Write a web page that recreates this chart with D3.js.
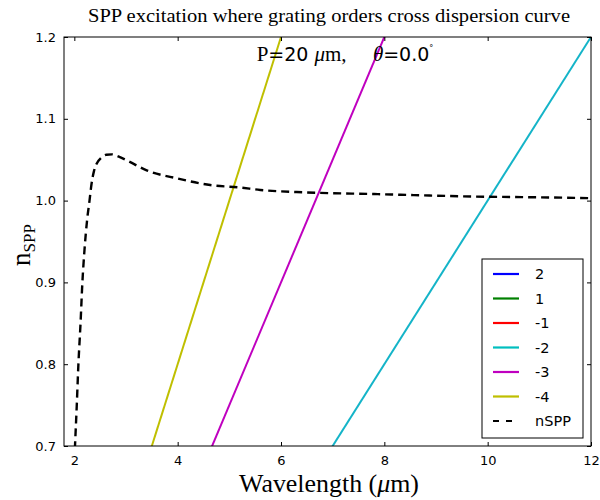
<!DOCTYPE html>
<html><head><meta charset="utf-8">
<script src="https://cdn.jsdelivr.net/npm/d3@7"></script>
<style>body{margin:0;background:#fff}svg{display:block}</style>
</head><body>
<svg id="c" width="600" height="500"></svg>
<script>
// ---- data ----
const xTicks = [2, 4, 6, 8, 10, 12];
const yTicks = [0.7, 0.8, 0.9, 1.0, 1.1, 1.2];
const orderNames = ["2", "1", "-1", "-2", "-3", "-4"];
const orderColors = ["#0000ff", "#008000", "#ff0000", "#00bfbf", "#bf00bf", "#bfbf00"];
const orderLineColors = ["#0000ff", "#008000", "#ff0000", "#14b4c8", "#bf00bf", "#bfbf00"];
const orderLambda = [1.8, 12];
const order2 = [-0.18, -1.2];
const order1 = [-0.09, -0.6];
const orderM1 = [0.09, 0.6];
const orderM2 = [0.18, 1.2];
const orderM3 = [0.27, 1.8];
const orderM4 = [0.36, 2.4];
const sppLambda = [2.00, 2.013, 2.046, 2.078, 2.12, 2.155, 2.197, 2.245, 2.294, 2.332, 2.38, 2.44, 2.516, 2.62, 2.73, 2.85, 3.05, 3.40, 4.0, 4.63, 5.2, 5.6, 6.5, 7.8, 9.0, 9.7, 11.0, 12.0];
const sppN     = [0.68, 0.700, 0.748, 0.799, 0.850, 0.899, 0.940, 0.975, 1.000, 1.020, 1.036, 1.046, 1.052, 1.056, 1.0565, 1.054, 1.048, 1.037, 1.027, 1.019, 1.016, 1.013, 1.010, 1.008, 1.006, 1.005, 1.004, 1.003];

const orderValues = [order2, order1, orderM1, orderM2, orderM3, orderM4];

// ---- layout ----
const L = 64, R = 591, T = 37, B = 446;
const svg = d3.select("#c");
const x = d3.scaleLinear().domain([1.8, 12]).range([L, R]);
const y = d3.scaleLinear().domain([0.7, 1.2]).range([B, T]);

svg.append("defs").append("clipPath").attr("id", "clip")
  .append("rect").attr("x", L).attr("y", T).attr("width", R - L).attr("height", B - T);

const plot = svg.append("g").attr("clip-path", "url(#clip)");
const line = d3.line().x(d => x(d[0])).y(d => y(d[1]));

orderValues.forEach((vals, i) => {
  plot.append("path")
    .datum(orderLambda.map((l, j) => [l, vals[j]]))
    .attr("d", line).attr("fill", "none")
    .attr("stroke", orderLineColors[i]).attr("stroke-width", 2);
});

plot.append("path")
  .datum(sppLambda.map((l, j) => [l, sppN[j]]))
  .attr("d", line.curve(d3.curveMonotoneX)).attr("fill", "none")
  .attr("stroke", "#000").attr("stroke-width", 2.4).attr("stroke-dasharray", "8,5");

// ---- axes (ticks inside, on all sides) ----
const tickFont = "DejaVu Sans, sans-serif";
const ax = g => g.selectAll(".domain").remove();
svg.append("g").attr("transform", `translate(0,${B})`)
  .call(d3.axisBottom(x).tickValues(xTicks).tickSize(-4).tickPadding(10).tickFormat(d3.format("d")))
  .call(ax).call(g => g.selectAll("text").attr("font-family", tickFont).attr("font-size", 13).attr("fill", "#000"));
svg.append("g").attr("transform", `translate(0,${T})`)
  .call(d3.axisTop(x).tickValues(xTicks).tickSize(-4).tickFormat(""))
  .call(ax);
svg.append("g").attr("transform", `translate(${L},0)`)
  .call(d3.axisLeft(y).tickValues(yTicks).tickSize(-4).tickPadding(8).tickFormat(d3.format(".1f")))
  .call(ax).call(g => g.selectAll("text").attr("font-family", tickFont).attr("font-size", 13).attr("fill", "#000"));
svg.append("g").attr("transform", `translate(${R},0)`)
  .call(d3.axisRight(y).tickValues(yTicks).tickSize(-4).tickFormat(""))
  .call(ax);
svg.selectAll(".tick line").attr("stroke", "#000");

svg.append("rect").attr("x", L).attr("y", T).attr("width", R - L).attr("height", B - T)
  .attr("fill", "none").attr("stroke", "#000").attr("stroke-width", 1);

// ---- texts ----
const serif = "Liberation Serif, serif";
svg.append("text").attr("x", 329).attr("y", 22).attr("text-anchor", "middle")
  .attr("font-family", serif).attr("font-size", 18.5)
  .attr("textLength", 482).attr("lengthAdjust", "spacingAndGlyphs")
  .text("SPP excitation where grating orders cross dispersion curve");

svg.append("text").attr("x", 329).attr("y", 492).attr("text-anchor", "middle")
  .attr("font-family", serif).attr("font-size", 25)
  .attr("textLength", 180).attr("lengthAdjust", "spacingAndGlyphs")
  .call(t => {
    t.append("tspan").text("Wavelength (");
    t.append("tspan").attr("font-style", "italic").text("μ");
    t.append("tspan").text("m)");
  });

svg.append("text").attr("transform", "translate(30,245) rotate(-90)").attr("text-anchor", "middle")
  .attr("font-family", serif).attr("font-size", 27)
  .call(t => {
    t.append("tspan").text("n");
    t.append("tspan").attr("font-size", 17).attr("dy", 5).text("SPP");
  });

const ann = svg.append("text").attr("x", 345).attr("y", 61).attr("text-anchor", "middle")
  .attr("font-size", 19);
ann.append("tspan").attr("font-family", serif).attr("font-size", 21).text("P");
ann.append("tspan").attr("font-family", tickFont).text("=20 ");
ann.append("tspan").attr("font-family", serif).attr("font-style", "italic").attr("font-size", 21).text("μ");
ann.append("tspan").attr("font-family", serif).attr("font-size", 21).text("m,\u2002\u2002 ");
ann.append("tspan").attr("font-family", serif).attr("font-style", "italic").attr("font-size", 21).text("θ");
ann.append("tspan").attr("font-family", tickFont).text("=0.0");
ann.append("tspan").attr("font-family", tickFont).attr("font-size", 8).attr("dy", -10).text("°");

// ---- legend ----
const lg = svg.append("g");
lg.append("rect").attr("x", 482).attr("y", 259).attr("width", 101).attr("height", 179)
  .attr("fill", "#fff").attr("stroke", "#000").attr("stroke-width", 1);
const legNames = orderNames.concat(["nSPP"]);
legNames.forEach((name, i) => {
  const yy = 274 + i * 24.5;
  const isSpp = i === orderNames.length;
  lg.append("line").attr("x1", 493).attr("x2", 519).attr("y1", yy).attr("y2", yy)
    .attr("stroke", isSpp ? "#000" : orderColors[i]).attr("stroke-width", 2.2)
    .attr("stroke-dasharray", isSpp ? "6,7" : null);
  lg.append("text").attr("x", 535).attr("y", yy + 5).attr("font-family", tickFont)
    .attr("font-size", 14.5).text(name);
});
</script>
</body></html>
